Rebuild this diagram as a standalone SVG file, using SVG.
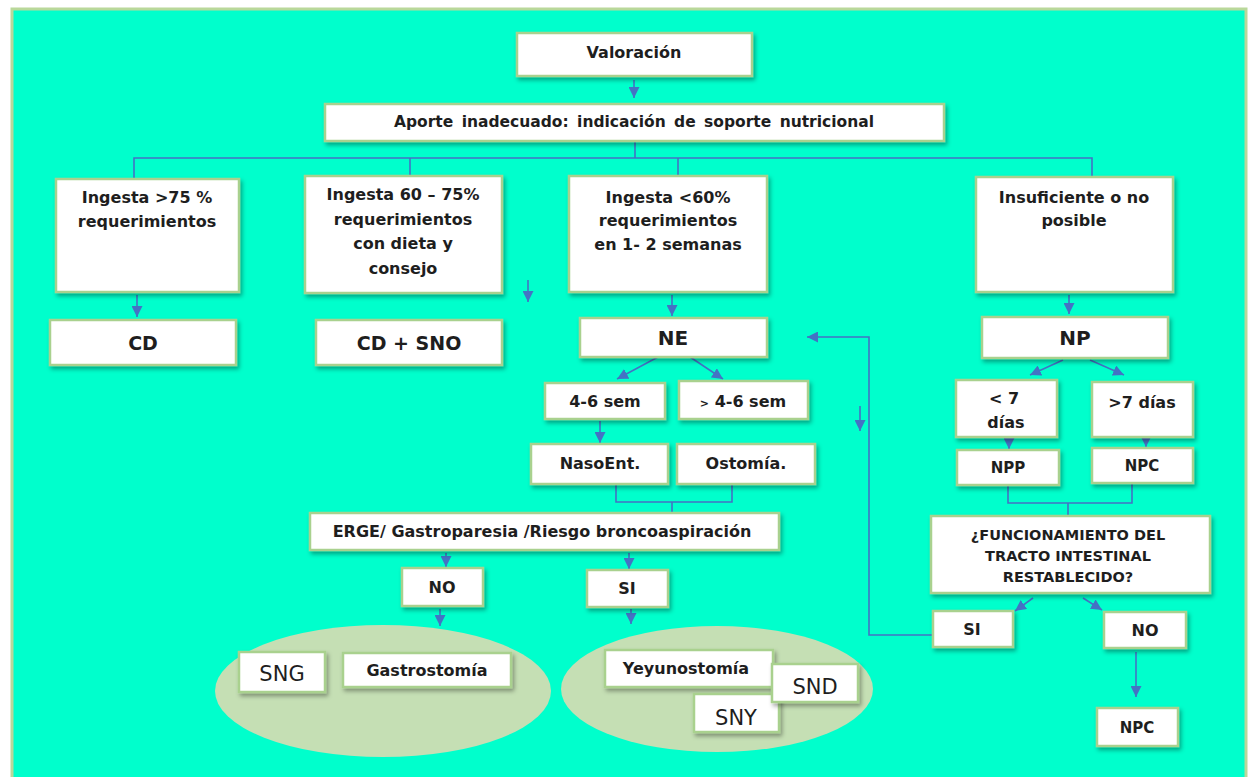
<svg xmlns="http://www.w3.org/2000/svg" width="1253" height="777" viewBox="0 0 1253 777">
  <style>
    .box { fill: #ffffff; stroke: #a9d18e; stroke-width: 2.5; filter: url(#sh); }
    .t { font-family: "DejaVu Sans", "Liberation Sans", sans-serif; font-weight: bold; fill: #1e1e1e; text-anchor: middle; }
    .n { font-family: "DejaVu Sans", "Liberation Sans", sans-serif; font-weight: normal; fill: #1e1e1e; text-anchor: middle; }
    .ln { fill: none; stroke: #4472c4; stroke-width: 1.6; }
    .ar { fill: none; stroke: #4472c4; stroke-width: 1.6; marker-end: url(#ah); }
    .oval { fill: #c5dfb4; }
  </style>
  <defs>
    <filter id="sh" x="-10%" y="-20%" width="130%" height="160%">
      <feDropShadow dx="2" dy="3" stdDeviation="2" flood-color="#000" flood-opacity="0.35"/>
    </filter>
    <marker id="ah" viewBox="0 0 10 10" refX="10" refY="5" markerWidth="11" markerHeight="11" markerUnits="userSpaceOnUse" orient="auto">
      <path d="M0,0 L10,5 L0,10 z" fill="#4472c4"/>
    </marker>
  </defs>

  <!-- page background and panel -->
  <rect x="0" y="0" width="1253" height="777" fill="#ffffff"/>
  <rect x="12" y="9" width="1234" height="778" fill="#00ffcc" stroke="#b9d89a" stroke-width="3"/>

  <!-- option ovals -->
  <ellipse class="oval" cx="383" cy="691" rx="168" ry="66"/>
  <ellipse class="oval" cx="717" cy="689" rx="156" ry="63"/>

  <!-- connectors -->
  <g id="connectors">
    <line class="ar" x1="634" y1="80" x2="634" y2="98"/>
    <polyline class="ln" points="635,141 635,158"/>
    <polyline class="ln" points="134,178 134,158 1092,158 1092,176"/>
    <line class="ln" x1="410" y1="158" x2="410" y2="176"/>
    <line class="ln" x1="678" y1="158" x2="678" y2="176"/>

    <line class="ar" x1="137" y1="295" x2="137" y2="317"/>
    <line class="ar" x1="528" y1="280" x2="528" y2="302"/>
    <line class="ar" x1="672" y1="295" x2="672" y2="316"/>
    <line class="ar" x1="1069" y1="295" x2="1069" y2="314"/>

    <line class="ar" x1="658" y1="357" x2="617" y2="379"/>
    <line class="ar" x1="690" y1="357" x2="723" y2="379"/>
    <line class="ar" x1="600" y1="421" x2="600" y2="443"/>
    <polyline class="ln" points="616,484 616,502 732,502 732,484"/>
    <line class="ln" x1="672" y1="502" x2="672" y2="513"/>

    <line class="ar" x1="860" y1="406" x2="860" y2="431"/>
    <polyline class="ar" points="932,635 869,635 869,337 807,337"/>

    <line class="ar" x1="446" y1="553" x2="446" y2="567"/>
    <line class="ar" x1="440" y1="609" x2="440" y2="626"/>
    <line class="ar" x1="629" y1="553" x2="629" y2="569"/>
    <line class="ar" x1="631" y1="609" x2="631" y2="624"/>

    <line class="ar" x1="1063" y1="360" x2="1030" y2="375"/>
    <line class="ar" x1="1090" y1="360" x2="1124" y2="375"/>
    <line class="ar" x1="1009" y1="438" x2="1009" y2="449"/>
    <line class="ar" x1="1146" y1="438" x2="1146" y2="447"/>
    <polyline class="ln" points="1008,485 1008,503 1132,503 1132,483"/>
    <line class="ln" x1="1068" y1="503" x2="1068" y2="516"/>

    <line class="ar" x1="1033" y1="598" x2="1015" y2="611"/>
    <line class="ar" x1="1083" y1="598" x2="1102" y2="610"/>
    <line class="ar" x1="1136" y1="652" x2="1136" y2="697"/>
  </g>

  <g id="valoracion">
    <rect class="box" x="517" y="33" width="235" height="43"/>
    <text class="t" x="634" y="58" font-size="16">Valoración</text>
  </g>
  <g id="aporte">
    <rect class="box" x="325" y="104" width="619" height="37"/>
    <text class="t" x="634" y="127" font-size="15.5" word-spacing="3">Aporte inadecuado: indicación de soporte nutricional</text>
  </g>

  <g id="ingesta75">
    <rect class="box" x="56" y="179" width="183" height="113"/>
    <text class="t" x="147" y="203" font-size="16">Ingesta &gt;75 %</text>
    <text class="t" x="147" y="227" font-size="16">requerimientos</text>
  </g>
  <g id="ingesta60_75">
    <rect class="box" x="305" y="176" width="197" height="117"/>
    <text class="t" x="403" y="200" font-size="16">Ingesta 60 – 75%</text>
    <text class="t" x="403" y="225" font-size="16">requerimientos</text>
    <text class="t" x="403" y="249" font-size="16">con dieta y</text>
    <text class="t" x="403" y="274" font-size="16">consejo</text>
  </g>
  <g id="ingesta60">
    <rect class="box" x="569" y="176" width="198" height="116"/>
    <text class="t" x="668" y="203" font-size="16">Ingesta &lt;60%</text>
    <text class="t" x="668" y="226" font-size="16">requerimientos</text>
    <text class="t" x="668" y="250" font-size="16">en 1- 2 semanas</text>
  </g>
  <g id="insuficiente">
    <rect class="box" x="976" y="177" width="197" height="115"/>
    <text class="t" x="1074" y="203" font-size="16">Insuficiente o no</text>
    <text class="t" x="1074" y="226" font-size="16">posible</text>
  </g>

  <g id="cd">
    <rect class="box" x="50" y="320" width="186" height="45"/>
    <text class="t" x="143" y="350" font-size="19">CD</text>
  </g>
  <g id="cd_sno">
    <rect class="box" x="316" y="320" width="186" height="45"/>
    <text class="t" x="409" y="350" font-size="19">CD + SNO</text>
  </g>
  <g id="ne">
    <rect class="box" x="580" y="318" width="187" height="39"/>
    <text class="t" x="673" y="345" font-size="20">NE</text>
  </g>
  <g id="np">
    <rect class="box" x="982" y="317" width="186" height="41"/>
    <text class="t" x="1075" y="345" font-size="20">NP</text>
  </g>

  <g id="sem46">
    <rect class="box" x="545" y="383" width="120" height="36"/>
    <text class="t" x="605" y="407" font-size="16">4-6 sem</text>
  </g>
  <g id="sem46_mas">
    <rect class="box" x="679" y="381" width="129" height="38"/>
    <text class="t" x="743" y="407" font-size="16"><tspan font-size="11">&gt;</tspan> 4-6 sem</text>
  </g>
  <g id="nasoent">
    <rect class="box" x="531" y="444" width="137" height="40"/>
    <text class="t" x="600" y="469" font-size="16">NasoEnt.</text>
  </g>
  <g id="ostomia">
    <rect class="box" x="677" y="444" width="138" height="40"/>
    <text class="t" x="746" y="469" font-size="16">Ostomía.</text>
  </g>
  <g id="erge">
    <rect class="box" x="310" y="513" width="469" height="37"/>
    <text class="t" x="542" y="537" font-size="16">ERGE/ Gastroparesia /Riesgo broncoaspiración</text>
  </g>
  <g id="no_izq">
    <rect class="box" x="402" y="568" width="81" height="38"/>
    <text class="t" x="442" y="593" font-size="16">NO</text>
  </g>
  <g id="si_izq">
    <rect class="box" x="587" y="570" width="81" height="37"/>
    <text class="t" x="627" y="594" font-size="16">SI</text>
  </g>
  <g id="sng">
    <rect class="box" x="239" y="652" width="86" height="40"/>
    <text class="n" x="282" y="681" font-size="21">SNG</text>
  </g>
  <g id="gastrostomia">
    <rect class="box" x="343" y="653" width="168" height="34"/>
    <text class="t" x="427" y="676" font-size="16">Gastrostomía</text>
  </g>
  <g id="yeyunostomia">
    <rect class="box" x="605" y="650" width="168" height="37"/>
    <text class="t" x="686" y="674" font-size="16">Yeyunostomía</text>
  </g>
  <g id="sny">
    <rect class="box" x="694" y="694" width="85" height="38"/>
    <text class="n" x="736" y="725" font-size="21">SNY</text>
  </g>
  <g id="snd">
    <rect class="box" x="772" y="664" width="86" height="38"/>
    <text class="n" x="815" y="694" font-size="21">SND</text>
  </g>

  <g id="menos7">
    <rect class="box" x="956" y="380" width="101" height="57"/>
    <text class="t" x="1004" y="404" font-size="16">&lt; 7</text>
    <text class="t" x="1006" y="428" font-size="16">días</text>
  </g>
  <g id="mas7">
    <rect class="box" x="1092" y="382" width="101" height="55"/>
    <text class="t" x="1142" y="408" font-size="16">&gt;7 días</text>
  </g>
  <g id="npp">
    <rect class="box" x="957" y="450" width="102" height="35"/>
    <text class="t" x="1008" y="473" font-size="15">NPP</text>
  </g>
  <g id="npc">
    <rect class="box" x="1092" y="448" width="101" height="35"/>
    <text class="t" x="1142" y="471" font-size="15">NPC</text>
  </g>
  <g id="funcionamiento">
    <rect class="box" x="931" y="516" width="279" height="77"/>
    <text class="t" x="1068" y="540" font-size="14.5">¿FUNCIONAMIENTO DEL</text>
    <text class="t" x="1068" y="561" font-size="14.5">TRACTO INTESTINAL</text>
    <text class="t" x="1068" y="582" font-size="14.5">RESTABLECIDO?</text>
  </g>
  <g id="si_der">
    <rect class="box" x="933" y="611" width="80" height="36"/>
    <text class="t" x="972" y="635" font-size="16">SI</text>
  </g>
  <g id="no_der">
    <rect class="box" x="1104" y="612" width="82" height="36"/>
    <text class="t" x="1145" y="636" font-size="16">NO</text>
  </g>
  <g id="npc_final">
    <rect class="box" x="1097" y="708" width="81" height="38"/>
    <text class="t" x="1137" y="733" font-size="15">NPC</text>
  </g>
</svg>
